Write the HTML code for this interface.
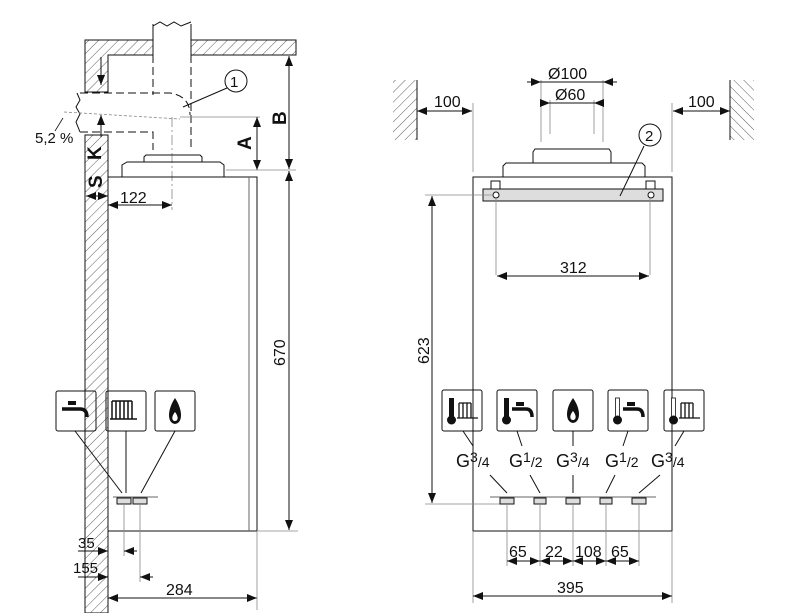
<!DOCTYPE html>
<html><head><meta charset="utf-8"><style>
html,body{margin:0;padding:0;background:#fff;}
svg{display:block;}
text{font-family:"Liberation Sans",sans-serif;fill:#111;}
</style></head><body>
<svg width="800" height="613" viewBox="0 0 800 613" xmlns="http://www.w3.org/2000/svg">
<defs>
<pattern id="h" patternUnits="userSpaceOnUse" width="7" height="7" patternTransform="rotate(45)">
<line x1="0" y1="0" x2="0" y2="7" stroke="#333" stroke-width="0.8"/>
</pattern>
<pattern id="h2" patternUnits="userSpaceOnUse" width="7" height="7" patternTransform="rotate(-45)">
<line x1="0" y1="0" x2="0" y2="7" stroke="#333" stroke-width="0.8"/>
</pattern>
<marker id="a" viewBox="0 0 10 10" refX="10" refY="5" markerWidth="10" markerHeight="10" orient="auto-start-reverse" markerUnits="userSpaceOnUse">
<path d="M0,1 L10,5 L0,9 z" fill="#111"/></marker>
</defs>
<g stroke="#111" stroke-width="1" fill="none">
<path d="M85,40 H153 V55 H108 V92 H85 Z" fill="url(#h)"/>
<path d="M191,40 H296 V55 H191 Z" fill="url(#h)"/>
<path d="M85,135 H108 V613 H85 Z" fill="url(#h)"/>
<path d="M153,26 L160,22 L167,26 L174,22 L181,26 L191,22" />
<line x1="153" y1="24" x2="153" y2="40"/>
<line x1="191" y1="24" x2="191" y2="40"/>
<line x1="153" y1="55" x2="153" y2="95" stroke-dasharray="8,4"/>
<line x1="191" y1="55" x2="191" y2="150" stroke-dasharray="8,4"/>
<path d="M77,93 L80,100 L76,107 L80,114 L76,122 L80,132" />
<path d="M80,93 H170 Q190,96 190,115" stroke-dasharray="8,4"/>
<path d="M80,132 H153 V150" stroke-dasharray="8,4"/>
<line x1="64" y1="112" x2="180" y2="119" stroke="#888" stroke-dasharray="3,2" stroke-width="0.8"/>
<line x1="180" y1="117" x2="260" y2="117" stroke="#888" stroke-width="0.8"/>
<line x1="172" y1="117" x2="172" y2="210" stroke="#888" stroke-dasharray="10,3,2,3" stroke-width="0.8"/>
<line x1="63" y1="118" x2="55" y2="131" stroke-width="0.8"/>
<path d="M122,177 V165 L127,162 H220 L224,165 V177" />
<path d="M144,162 V157 L146,155 H200 L202,157 V162"/>
<rect x="108" y="177" width="149" height="354"/>
<line x1="249" y1="177" x2="249" y2="531" stroke="#666"/>
<line x1="101" y1="57" x2="101" y2="85" marker-end="url(#a)"/>
<line x1="101" y1="137" x2="101" y2="115" marker-end="url(#a)"/>
<line x1="86" y1="196" x2="108" y2="196" marker-start="url(#a)" marker-end="url(#a)"/>
<line x1="108" y1="205" x2="172" y2="205" marker-start="url(#a)" marker-end="url(#a)"/>
<line x1="257" y1="117" x2="257" y2="170" marker-start="url(#a)" marker-end="url(#a)"/>
<line x1="226" y1="170" x2="296" y2="170" stroke="#888" stroke-width="0.8"/>
<line x1="289" y1="56" x2="289" y2="169" marker-start="url(#a)" marker-end="url(#a)"/>
<line x1="289" y1="171" x2="289" y2="530" marker-start="url(#a)" marker-end="url(#a)"/>
<line x1="258" y1="531" x2="298" y2="531" stroke="#888" stroke-width="0.8"/>
<circle cx="236" cy="81" r="11"/>
<line x1="227" y1="88" x2="183" y2="107"/>
<rect x="56" y="391" width="40" height="40" rx="2"/>
<rect x="106" y="391" width="40" height="40" rx="2"/>
<rect x="155" y="391" width="40" height="40" rx="2"/>
<line x1="75" y1="431" x2="122" y2="493"/>
<line x1="126" y1="431" x2="126" y2="493"/>
<line x1="175" y1="431" x2="141" y2="493"/>
<line x1="113" y1="497" x2="158" y2="497" stroke="#666"/>
<rect x="117" y="498" width="14" height="6" fill="#ddd"/>
<rect x="133" y="498" width="14" height="6" fill="#ddd"/>
<line x1="124" y1="504" x2="124" y2="556" stroke="#888" stroke-width="0.8"/>
<line x1="140" y1="504" x2="140" y2="582" stroke="#888" stroke-width="0.8"/>
<line x1="78" y1="551" x2="108" y2="551" marker-end="url(#a)"/>
<line x1="137" y1="551" x2="124" y2="551" marker-end="url(#a)"/>
<line x1="78" y1="577" x2="108" y2="577" marker-end="url(#a)"/>
<line x1="153" y1="577" x2="140" y2="577" marker-end="url(#a)"/>
<line x1="108" y1="598" x2="257" y2="598" marker-start="url(#a)" marker-end="url(#a)"/>
<line x1="257" y1="531" x2="257" y2="610" stroke="#888" stroke-width="0.8"/>

<rect x="393" y="80" width="24" height="60" fill="url(#h)" stroke="none"/>
<line x1="417" y1="80" x2="417" y2="140"/>
<rect x="730" y="80" width="24" height="60" fill="url(#h2)" stroke="none"/>
<line x1="730" y1="80" x2="730" y2="140"/>
<line x1="473" y1="103" x2="473" y2="172" stroke="#888" stroke-width="0.8"/>
<line x1="672" y1="103" x2="672" y2="172" stroke="#888" stroke-width="0.8"/>
<line x1="417" y1="111" x2="472" y2="111" marker-start="url(#a)" marker-end="url(#a)"/>
<line x1="673" y1="111" x2="730" y2="111" marker-start="url(#a)" marker-end="url(#a)"/>
<line x1="541" y1="80" x2="541" y2="142" stroke="#888" stroke-width="0.8"/>
<line x1="603" y1="80" x2="603" y2="142" stroke="#888" stroke-width="0.8"/>
<line x1="550" y1="100" x2="550" y2="134" stroke="#888" stroke-width="0.8"/>
<line x1="594" y1="100" x2="594" y2="134" stroke="#888" stroke-width="0.8"/>
<line x1="527" y1="82" x2="541" y2="82" marker-end="url(#a)"/>
<line x1="541" y1="82" x2="603" y2="82"/>
<line x1="617" y1="82" x2="603" y2="82" marker-end="url(#a)"/>
<line x1="541" y1="103" x2="550" y2="103" marker-end="url(#a)"/>
<line x1="550" y1="103" x2="594" y2="103"/>
<line x1="603" y1="103" x2="594" y2="103" marker-end="url(#a)"/>
<path d="M503,177 V166 L506,163 H642 L645,166 V177"/>
<path d="M533,163 V152 L535,149 H609 L611,152 V163"/>
<rect x="473" y="177" width="199" height="354"/>
<rect x="483" y="189" width="180" height="12" fill="#ddd"/>
<rect x="491" y="181" width="9" height="8"/>
<rect x="646" y="181" width="9" height="8"/>
<circle cx="496" cy="195" r="3" fill="#fff"/>
<circle cx="651" cy="195" r="3" fill="#fff"/>
<circle cx="650" cy="135" r="11"/>
<line x1="644" y1="146" x2="620" y2="196"/>
<line x1="425" y1="195" x2="494" y2="195" stroke="#888" stroke-width="0.8"/>
<line x1="432" y1="196" x2="432" y2="503" marker-start="url(#a)" marker-end="url(#a)"/>
<line x1="425" y1="504" x2="500" y2="504" stroke="#888" stroke-width="0.8"/>
<line x1="496" y1="198" x2="496" y2="275" stroke="#888" stroke-width="0.8"/>
<line x1="650" y1="198" x2="650" y2="275" stroke="#888" stroke-width="0.8"/>
<line x1="497" y1="276" x2="649" y2="276" marker-start="url(#a)" marker-end="url(#a)"/>
<rect x="442" y="390" width="40" height="41" rx="2"/>
<rect x="497" y="390" width="40" height="41" rx="2"/>
<rect x="553" y="390" width="40" height="41" rx="2"/>
<rect x="608" y="390" width="40" height="41" rx="2"/>
<rect x="664" y="390" width="40" height="41" rx="2"/>
<line x1="463" y1="431" x2="473" y2="446"/>
<line x1="517" y1="431" x2="522" y2="446"/>
<line x1="573" y1="431" x2="573" y2="446"/>
<line x1="628" y1="431" x2="623" y2="446"/>
<line x1="684" y1="431" x2="675" y2="446"/>
<line x1="490" y1="475" x2="507" y2="493"/>
<line x1="530" y1="475" x2="540" y2="493"/>
<line x1="573" y1="475" x2="573" y2="493"/>
<line x1="615" y1="475" x2="606" y2="493"/>
<line x1="660" y1="475" x2="639" y2="493"/>
<line x1="490" y1="497" x2="656" y2="497" stroke="#666"/>
<rect x="500" y="498" width="14" height="6" fill="#ddd"/>
<rect x="534" y="498" width="12" height="6" fill="#ddd"/>
<rect x="566" y="498" width="14" height="6" fill="#ddd"/>
<rect x="600" y="498" width="12" height="6" fill="#ddd"/>
<rect x="632" y="498" width="14" height="6" fill="#ddd"/>
<g stroke="#888" stroke-width="0.8">
<line x1="507" y1="504" x2="507" y2="566"/><line x1="540" y1="504" x2="540" y2="566"/>
<line x1="573" y1="504" x2="573" y2="566"/><line x1="606" y1="504" x2="606" y2="566"/>
<line x1="639" y1="504" x2="639" y2="566"/>
<line x1="473" y1="531" x2="473" y2="603"/><line x1="672" y1="531" x2="672" y2="603"/>
</g>
<line x1="507" y1="561" x2="540" y2="561" marker-start="url(#a)" marker-end="url(#a)"/>
<line x1="540" y1="561" x2="573" y2="561" marker-start="url(#a)" marker-end="url(#a)"/>
<line x1="573" y1="561" x2="606" y2="561" marker-start="url(#a)" marker-end="url(#a)"/>
<line x1="606" y1="561" x2="639" y2="561" marker-start="url(#a)" marker-end="url(#a)"/>
<line x1="473" y1="596" x2="672" y2="596" marker-start="url(#a)" marker-end="url(#a)"/>
</g>
<g fill="#111" stroke="#111">
<rect x="68" y="401" width="8" height="4" stroke="none"/>
<path d="M62,409 H80 Q87,409 87,417" fill="none" stroke-width="3.5"/>
<g fill="none" stroke-width="1.5"><path d="M112,401 V419 M116,401 V419 M120,401 V419 M124,401 V419 M128,401 V419 M132,401 V419 M110,419 H137 M112,401 H132"/></g>
<path d="M175,398 C167,410 167,423 175,424 C183,423 183,410 175,398 Z M175,412 C171,417 172,421 175,421 C178,421 179,417 175,412Z" fill-rule="evenodd" stroke="none"/>
<rect x="449" y="398" width="5" height="19" stroke="none"/><circle cx="451.5" cy="420" r="4.5" stroke="none"/>
<g fill="none" stroke-width="1.3"><path d="M459,403 V418 M463,403 V418 M467,403 V418 M471,403 V418 M457,418 H478 M459,403 H471"/></g>
<rect x="504" y="398" width="5" height="19" stroke="none"/><circle cx="506.5" cy="420" r="4.5" stroke="none"/>
<rect x="516" y="402" width="8" height="4" stroke="none"/>
<path d="M512,409 H526 Q532,409 532,417" fill="none" stroke-width="3.5"/>
<path d="M573,398 C565,409 565,422 573,423 C581,422 581,409 573,398 Z M573,411 C569,416 570,420 573,420 C576,420 577,416 573,411Z" fill-rule="evenodd" stroke="none"/>
<rect x="615.5" y="398" width="4" height="19" fill="#fff" stroke-width="0.8"/><circle cx="617.5" cy="420" r="4.5" stroke="none"/>
<rect x="627" y="402" width="8" height="4" stroke="none"/>
<path d="M623,409 H637 Q643,409 643,417" fill="none" stroke-width="3.5"/>
<rect x="671.5" y="398" width="4" height="19" fill="#fff" stroke-width="0.8"/><circle cx="673.5" cy="420" r="4.5" stroke="none"/>
<g fill="none" stroke-width="1.3"><path d="M681,403 V418 M685,403 V418 M689,403 V418 M693,403 V418 M679,418 H700 M681,403 H693"/></g>
</g>
<g font-size="16">
<text x="230" y="87" font-size="15">1</text>
<text x="645" y="141" font-size="15">2</text>
<text x="35" y="143" font-size="15">5,2 %</text>
<text x="120" y="203">122</text>
<text x="78" y="548" font-size="15">35</text>
<text x="73" y="573" font-size="15">155</text>
<text x="166" y="595">284</text>
<text x="434" y="107">100</text>
<text x="688" y="107">100</text>
<text x="548" y="79">Ø100</text>
<text x="555" y="100">Ø60</text>
<text x="560" y="273">312</text>
<text x="509" y="557">65</text>
<text x="545" y="557">22</text>
<text x="575" y="557">108</text>
<text x="611" y="557">65</text>
<text x="557" y="593">395</text>
<text transform="translate(285,366) rotate(-90)">670</text>
<text transform="translate(429,364) rotate(-90)">623</text>
<g font-weight="bold" font-size="19">
<text transform="translate(101,160) rotate(-90)">K</text>
<text transform="translate(102,188) rotate(-90)">S</text>
<text transform="translate(251,150) rotate(-90)">A</text>
<text transform="translate(286,125) rotate(-90)">B</text>
</g>
<g font-size="18">
<text x="456" y="467">G<tspan dy="-5" font-size="14">3</tspan><tspan dy="5" font-size="14">/4</tspan></text>
<text x="509" y="467">G<tspan dy="-5" font-size="14">1</tspan><tspan dy="5" font-size="14">/2</tspan></text>
<text x="556" y="467">G<tspan dy="-5" font-size="14">3</tspan><tspan dy="5" font-size="14">/4</tspan></text>
<text x="605" y="467">G<tspan dy="-5" font-size="14">1</tspan><tspan dy="5" font-size="14">/2</tspan></text>
<text x="651" y="467">G<tspan dy="-5" font-size="14">3</tspan><tspan dy="5" font-size="14">/4</tspan></text>
</g>
</g>
</svg>
</body></html>
